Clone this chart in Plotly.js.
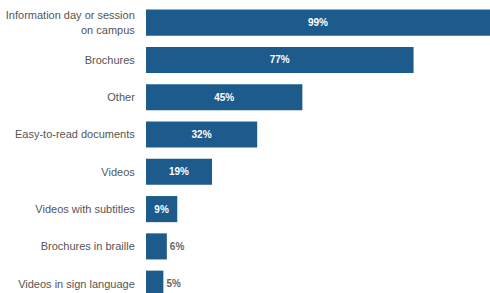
<!DOCTYPE html>
<html>
<head>
<meta charset="utf-8">
<script src="https://cdn.plot.ly/plotly-3.0.1.min.js"></script>
<style>html,body{margin:0;padding:0;background:#fff;}#chart{width:490px;height:293px;}</style>
</head>
<body>
<div id="chart"></div>
<script>
const categories = [
  "Information day or session<br>on campus",
  "Brochures",
  "Other",
  "Easy-to-read documents",
  "Videos",
  "Videos with subtitles",
  "Brochures in braille",
  "Videos in sign language"
];
const values = [99, 77, 45, 32, 19, 9, 6, 5];
const labels = ["99%", "77%", "45%", "32%", "19%", "9%", "6%", "5%"];
const positions = ["inside","inside","inside","inside","inside","inside","outside","outside"];
const textColors = ["#ffffff","#ffffff","#ffffff","#ffffff","#ffffff","#ffffff","#666666","#666666"];

Plotly.newPlot("chart", [{
  type: "bar",
  orientation: "h",
  y: categories,
  x: values,
  text: labels,
  textposition: positions,
  insidetextanchor: "middle",
  textangle: 0,
  constraintext: "none",
  cliponaxis: false,
  textfont: {family: "Liberation Sans, Arial, sans-serif", size: 10, color: textColors, weight: "bold"},
  marker: {color: "#1c5b8c"},
  hoverinfo: "none"
}], {
  width: 490, height: 293,
  margin: {l: 146, r: 0, t: 4, b: 0, pad: 0},
  paper_bgcolor: "#ffffff",
  plot_bgcolor: "#ffffff",
  bargap: 0.3,
  showlegend: false,
  xaxis: {range: [0, 99], visible: false, fixedrange: true},
  yaxis: {
    type: "category",
    autorange: false,
    range: [7.25, -0.5],
    showgrid: false, zeroline: false, showline: false,
    ticks: "outside", ticklen: 8, tickcolor: "rgba(0,0,0,0)",
    tickfont: {family: "Liberation Sans, Arial, sans-serif", size: 11, color: "#555555"},
    fixedrange: true
  }
}, {staticPlot: true, displayModeBar: false});
</script>
</body>
</html>
